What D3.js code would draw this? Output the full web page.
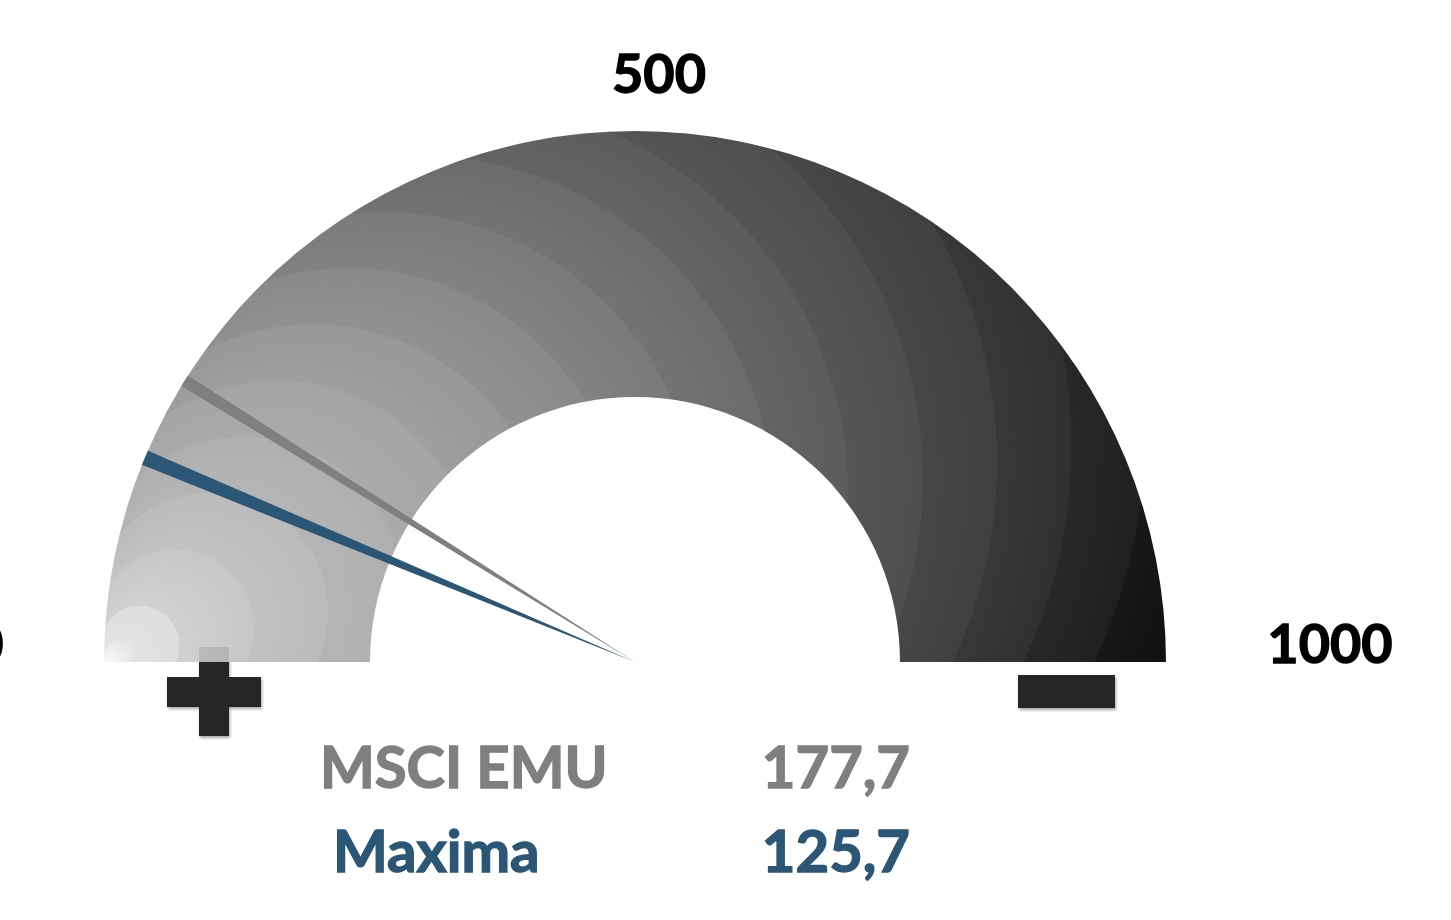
<!DOCTYPE html>
<html>
<head>
<meta charset="utf-8">
<script src="https://cdn.jsdelivr.net/npm/d3@7"></script>
<style>
  body { margin: 0; background: #fff; }
  text { font-family: Lato, "Open Sans", sans-serif; font-weight: bold; }
</style>
</head>
<body>
<div id="gauge"></div>
<script>
// chart data
var seriesNames = ["MSCI EMU", "Maxima"];
var seriesValues = [177.7, 125.7];
var seriesLabels = ["177,7", "125,7"];
var seriesColors = ["#7f7f7f", "#2b5676"];
var tickValues = [0, 500, 1000];
var tickLabels = ["0", "500", "1000"];

var svgWidth = 1451;
var svgHeight = 920;

var cx = 635, cy = 662;
var outerR = 531, innerR = 265;

var svg = d3.select("#gauge")
    .append("svg")
    .attr("width", svgWidth)
    .attr("height", svgHeight);

var defs = svg.append("defs");

// banded radial fill, focus at the lower left corner
var grad = defs.append("radialGradient")
    .attr("id", "bandFill")
    .attr("gradientUnits", "userSpaceOnUse")
    .attr("cx", 626).attr("cy", 412).attr("r", 594)
    .attr("fx", 105).attr("fy", 662);

// grey level along the gradient (0 = focus, 1 = far right corner)
var greyAt = d3.scaleLinear()
    .domain([0, 0.04, 0.1, 0.2, 0.37, 0.67, 0.81, 1])
    .range([250, 226, 204, 184, 155, 88, 58, 12]);

var nBands = 15;
d3.range(nBands).forEach(function(i) {
    var t0 = i / nBands, t1 = (i + 1) / nBands;
    var mid = greyAt((t0 + t1) / 2);
    var spread = (greyAt(t0) - greyAt(t1)) * 0.25;
    var hi = Math.round(Math.min(255, mid + spread)), lo = Math.round(mid - spread);
    if (i === 0) {
        // smooth falloff right at the corner
        grad.append("stop").attr("offset", 0).attr("stop-color", "#fafafa");
        grad.append("stop").attr("offset", t0 + 0.03).attr("stop-color", d3.rgb(226, 226, 226));
        grad.append("stop").attr("offset", t1).attr("stop-color", d3.rgb(lo, lo, lo));
        return;
    }
    grad.append("stop").attr("offset", t0).attr("stop-color", d3.rgb(hi, hi, hi));
    grad.append("stop").attr("offset", t1).attr("stop-color", d3.rgb(lo, lo, lo));
});

var shadow = defs.append("filter").attr("id", "shadow")
    .attr("x", "-20%").attr("y", "-20%").attr("width", "140%").attr("height", "140%");
shadow.append("feDropShadow")
    .attr("dx", 1).attr("dy", 2).attr("stdDeviation", 1.5)
    .attr("flood-color", "#000").attr("flood-opacity", 0.35);

// value -> angle, 0 on the left, 1000 on the right
var angle = d3.scaleLinear()
    .domain([0, 1000])
    .range([-Math.PI / 2, Math.PI / 2]);

var chartGroup = svg.append("g")
    .attr("transform", `translate(${cx}, ${cy})`);

// plus / minus signs under the gauge
var signs = chartGroup.append("g").attr("filter", "url(#shadow)").attr("fill", "#262626");
signs.append("rect").attr("x", -468).attr("y", 15).attr("width", 94).attr("height", 30);
signs.append("rect").attr("x", -436).attr("y", -15).attr("width", 30).attr("height", 89);
signs.append("rect").attr("x", 383).attr("y", 13).attr("width", 97).attr("height", 33);

// gauge band, drawn in page coordinates so the gradient lines up
var band = d3.path();
band.moveTo(cx - outerR, cy);
band.arc(cx, cy, outerR, Math.PI, 2 * Math.PI);
band.lineTo(cx + innerR, cy);
band.arc(cx, cy, innerR, 0, Math.PI, true);
band.closePath();

svg.append("path")
    .attr("d", band.toString())
    .attr("fill", "url(#bandFill)");

// plus stem showing through the band
svg.append("rect")
    .attr("x", cx - 436).attr("y", cy - 15)
    .attr("width", 30).attr("height", 15)
    .attr("fill", "#000").attr("opacity", 0.1);

// needles
var needleGroup = svg.append("g").attr("transform", `translate(${cx}, ${cy})`);
var halfWidths = [0.0115, 0.0145];
needleGroup.selectAll("path")
    .data(seriesValues)
    .enter()
    .append("path")
    .attr("d", (d, i) => d3.arc()
        .innerRadius(0)
        .outerRadius(outerR)
        .startAngle(angle(d) - halfWidths[i])
        .endAngle(angle(d) + halfWidths[i])())
    .attr("fill", (d, i) => seriesColors[i]);

// scale labels
svg.selectAll(".tick-label")
    .data(tickValues)
    .enter()
    .append("text")
    .attr("class", "tick-label")
    .attr("x", d => cx + 24 + Math.sin(angle(d)) * 671)
    .attr("y", d => cy + 1 - Math.cos(angle(d)) * 570)
    .attr("text-anchor", "middle")
    .attr("font-size", 54)
    .attr("fill", "#000")
    .attr("stroke", "#000")
    .attr("stroke-width", 1.3)
    .text((d, i) => tickLabels[i]);

// legend rows
var rowY = [788, 872];
var nameX = [320, 333];
svg.selectAll(".name")
    .data(seriesNames)
    .enter()
    .append("text")
    .attr("class", "name")
    .attr("x", (d, i) => nameX[i])
    .attr("y", (d, i) => rowY[i])
    .attr("font-size", 58)
    .attr("fill", (d, i) => seriesColors[i])
    .attr("stroke", (d, i) => seriesColors[i])
    .attr("stroke-width", 1.4)
    .text(d => d);

svg.selectAll(".value")
    .data(seriesLabels)
    .enter()
    .append("text")
    .attr("class", "value")
    .attr("x", 910)
    .attr("y", (d, i) => rowY[i])
    .attr("text-anchor", "end")
    .attr("font-size", 58)
    .attr("fill", (d, i) => seriesColors[i])
    .attr("stroke", (d, i) => seriesColors[i])
    .attr("stroke-width", 1.4)
    .text(d => d);
</script>
</body>
</html>
